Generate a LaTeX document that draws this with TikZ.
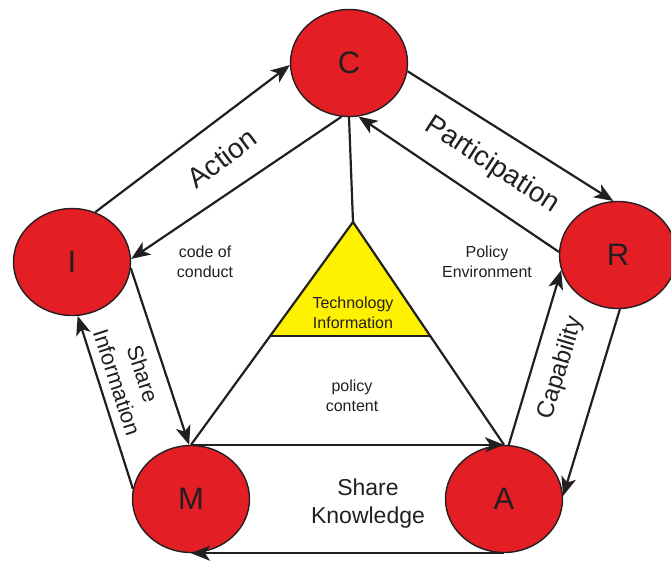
\documentclass[tikz,border=0pt]{standalone}
\usepackage{fontspec}
\setmainfont{Liberation Sans}
\usetikzlibrary{shapes.geometric,arrows.meta,calc}
\definecolor{dotred}{RGB}{227,30,36}
\definecolor{triyellow}{RGB}{255,242,0}
\definecolor{ink}{RGB}{35,31,32}
\begin{document}
\begin{tikzpicture}[x=1pt,y=-1pt,line width=2.2pt,ink,
  letter/.style={ellipse,draw=ink,line width=1.4pt,fill=dotred,minimum width=117pt,minimum height=107pt,inner sep=0pt,font=\fontsize{31}{31}\selectfont},
  flow/.style={draw=ink,-{Stealth[length=19pt,width=15pt,inset=5pt]}},
  big/.style={font=\fontsize{28}{30}\selectfont,align=center},
  mid/.style={font=\fontsize{23}{28}\selectfont,align=center},
  small/.style={font=\fontsize{16}{20}\selectfont,align=center}]
	\useasboundingbox (0,0) rectangle (671,565);
	\node[letter] (C) at (349,63) {C};
	\node[letter] (I) at (72,262) {I};
	\node[letter] (R) at (618,255) {R};
	\node[letter] (M) at (191,499) {M};
	\node[letter] (A) at (504,499) {A};
	\coordinate (T) at (353,222);
	\coordinate (TL) at ($(T)!0.51!(M.north)$);
	\coordinate (TR) at ($(T)!0.51!(A.north)$);
	\fill[triyellow] (T) -- (TL) -- (TR) -- cycle;
	\draw (C.south) -- (T) -- (M.north);
	\draw (T) -- (A.north);
	\draw (TL) -- (TR);
	% outer cycle
	\draw[flow] (I.65) -- (C.182);
	\draw[flow] (C.352) -- (R.95);
	\draw[flow] (R.272) -- (A.3);
	\draw[flow] (A.south) -- (M.south);
	\draw[flow] (M.170) -- (I.276);
	% inner arrows
	\draw[flow] (C.262) -- (I.3);
	\draw[flow] (I.354) -- (M.92);
	\draw[flow] (M.north) -- (A.north);
	\draw[flow] (A.85) -- (R.195);
	\draw[flow] (R.177) -- (C.280);
	\node[big,rotate=37] (act) at (222,158) {Action};
	\node[big,rotate=-33] (par) at (492,165) {Participation};
	\node[mid,font=\fontsize{22}{27}\selectfont,rotate=-72] (shi) at (130,378) {Share\\Information};
	\node[mid,font=\fontsize{24}{27}\selectfont,rotate=73] (cap) at (561,368) {Capability};
	\node[mid] (shk) at (368,504) {Share\\Knowledge};
	\node[small] (coc) at (205,262) {code of\\conduct};
	\node[small] (pen) at (487,262) {Policy\\Environment};
	\node[small] (pcn) at (352,396) {policy\\content};
	\node[small] (tin) at (353,313) {Technology\\Information};
\end{tikzpicture}
\end{document}
